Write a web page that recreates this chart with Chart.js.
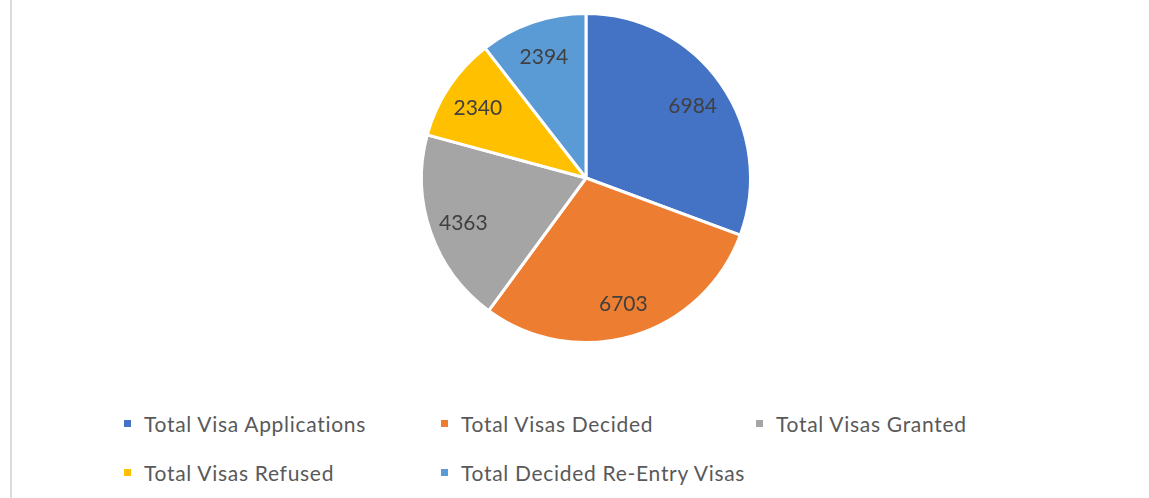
<!DOCTYPE html>
<html>
<head>
<meta charset="utf-8">
<script src="https://cdn.jsdelivr.net/npm/chart.js@4.4.1/dist/chart.umd.min.js"></script>
<style>
  body { margin: 0; background: #fff; }
  #wrap { position: relative; width: 1149px; height: 498px; overflow: hidden; }
  #edge { position: absolute; left: 10px; top: 0; width: 2px; height: 498px; background: #dcdcdc; }
  #pie { position: absolute; left: 0; top: 0; }
  #legend { position: absolute; left: 124px; top: 406px; display: grid;
            grid-template-columns: 317px 315px 316px; row-gap: 15px;
            font-family: Lato, sans-serif; font-size: 21px; letter-spacing: 0.7px; color: #595959; }
  .item { display: flex; align-items: center; height: 34px; white-space: nowrap; }
  .box { width: 7px; height: 7px; margin-right: 13px; flex: none; }
</style>
</head>
<body>
<div id="wrap">
  <div id="edge"></div>
  <canvas id="pie" width="1149" height="356"></canvas>
  <div id="legend"></div>
</div>
<script>
// Data
const categories = ['Total Visa Applications', 'Total Visas Decided', 'Total Visas Granted',
                    'Total Visas Refused', 'Total Decided Re-Entry Visas'];
const values = [6984, 6703, 4363, 2340, 2394];
const colors = ['#4472C4', '#ED7D31', '#A5A5A5', '#FFC000', '#5B9BD5'];

// draws the value inside each slice, like Excel's data labels
const sliceLabels = {
    id: 'sliceLabels',
    afterDatasetsDraw(chart) {
        const c = chart.ctx;
        const meta = chart.getDatasetMeta(0);
        c.save();
        c.font = '21px Lato, sans-serif';
        c.fillStyle = '#404040';
        c.textAlign = 'center';
        c.textBaseline = 'middle';
        meta.data.forEach((arc, i) => {
            const mid = (arc.startAngle + arc.endAngle) / 2;
            const r = arc.outerRadius * 0.79;
            c.fillText(String(chart.data.datasets[0].data[i]),
                arc.x + Math.cos(mid) * r, arc.y + Math.sin(mid) * r + 2);
        });
        c.restore();
    }
};

const chart = new Chart(document.getElementById('pie').getContext('2d'), {
    type: 'pie',
    data: {
        labels: categories,
        datasets: [{
            data: values,
            backgroundColor: colors,
            borderColor: '#ffffff',
            borderWidth: 3,
        }],
    },
    options: {
        responsive: false,
        animation: false,
        layout: { padding: { left: 23, top: 12, bottom: 12, right: 0 } },
        plugins: {
            legend: { display: false },
            tooltip: { enabled: false },
        },
    },
    plugins: [sliceLabels],
});

// legend in a grid, like the original
const legendEl = document.getElementById('legend');
chart.options.plugins.legend.labels.generateLabels(chart).forEach(item => {
    const row = document.createElement('div');
    row.className = 'item';
    const box = document.createElement('span');
    box.className = 'box';
    box.style.background = item.fillStyle;
    row.appendChild(box);
    row.appendChild(document.createTextNode(item.text));
    legendEl.appendChild(row);
});
</script>
</body>
</html>
